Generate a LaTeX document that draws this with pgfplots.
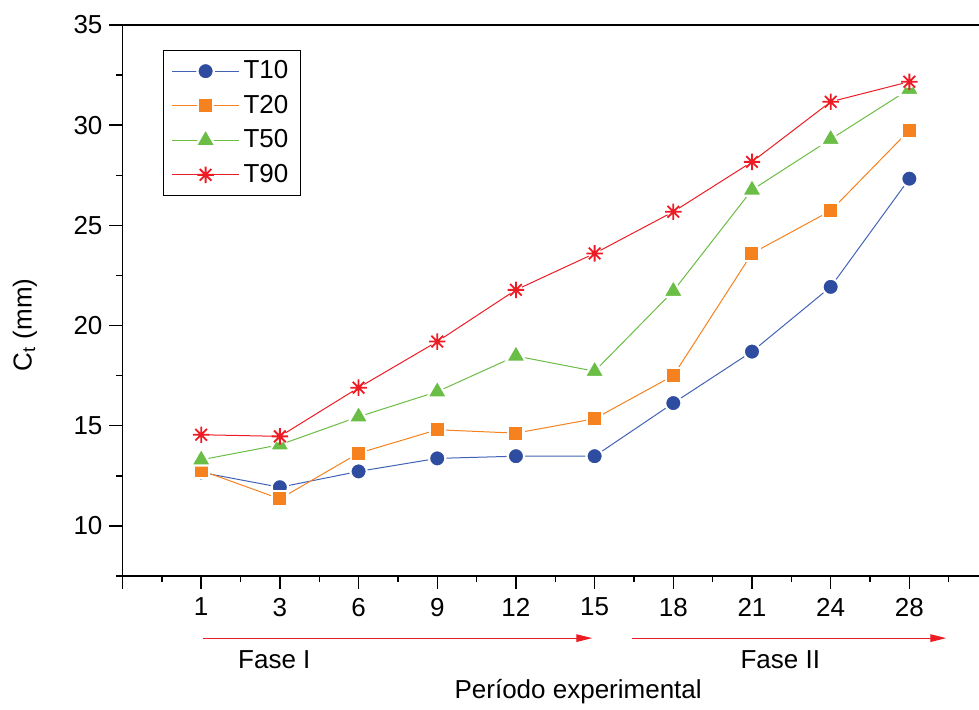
\documentclass[border=0pt]{standalone}
\usepackage{pgfplots}
\pgfplotsset{compat=1.18}
\usepackage{fontspec}
\setmainfont{Liberation Sans}
\usetikzlibrary{arrows.meta}

\definecolor{cblue}{HTML}{2E4DA0}
\definecolor{cbluel}{HTML}{4262B5}
\definecolor{corange}{HTML}{F5821F}
\definecolor{cgreen}{HTML}{6ABD45}
\definecolor{cred}{HTML}{ED1C24}

% eight-armed asterisk with a white halo, so the line stops short of it
\pgfdeclareplotmark{ast8}{%
  \pgfpathcircle{\pgfpointorigin}{0.8\pgfplotmarksize}%
  \pgfsetfillcolor{white}\pgfusepathqfill
  \pgfsetlinewidth{0.9pt}\pgfsetstrokecolor{cred}%
  \pgfpathmoveto{\pgfqpoint{0pt}{\pgfplotmarksize}}\pgfpathlineto{\pgfqpoint{0pt}{-\pgfplotmarksize}}%
  \pgfpathmoveto{\pgfqpoint{\pgfplotmarksize}{0pt}}\pgfpathlineto{\pgfqpoint{-\pgfplotmarksize}{0pt}}%
  \pgfpathmoveto{\pgfqpoint{0.707\pgfplotmarksize}{0.707\pgfplotmarksize}}\pgfpathlineto{\pgfqpoint{-0.707\pgfplotmarksize}{-0.707\pgfplotmarksize}}%
  \pgfpathmoveto{\pgfqpoint{-0.707\pgfplotmarksize}{0.707\pgfplotmarksize}}\pgfpathlineto{\pgfqpoint{0.707\pgfplotmarksize}{-0.707\pgfplotmarksize}}%
  \pgfusepathqstroke}

% x index: 0..9 stand for days 1,3,6,9,12,15,18,21,24,28
\pgfplotstableread{
x y
0 12.67
1 11.93
2 12.72
3 13.37
4 13.48
5 13.48
6 16.13
7 18.70
8 21.93
9 27.33
}\tten
\pgfplotstableread{
x y
0 12.77
1 11.35
2 13.63
3 14.80
4 14.63
5 15.35
6 17.50
7 23.60
8 25.73
9 29.75
}\ttwenty
\pgfplotstableread{
x y
0 13.30
1 14.05
2 15.45
3 16.70
4 18.48
5 17.72
6 21.72
7 26.77
8 29.30
9 31.80
}\tfifty
\pgfplotstableread{
x y
0 14.55
1 14.47
2 16.90
3 19.20
4 21.78
5 23.60
6 25.68
7 28.17
8 31.17
9 32.17
}\tninety

\begin{document}
\begin{tikzpicture}
\path[use as bounding box] (-61.25pt,-66.5pt) rectangle (428.25pt,288pt);
\begin{axis}[
  scale only axis,
  width=428.25pt, height=275.5pt,
  xmin=-1, xmax=9.885,
  ymin=7.5, ymax=35,
  axis lines=left,
  axis line style={-, line width=0.7pt},
  clip=false,
  xtick={-1,0,...,9},
  xticklabels={,1,3,6,9,12,15,18,21,24,28},
  minor xtick={-0.5,0.5,...,9.5},
  ytick={10,15,...,35},
  minor ytick={7.5,12.5,...,32.5},
  tick align=outside,
  major tick length=6.5pt,
  minor tick length=3pt,
  every tick/.style={black, line width=0.7pt},
  /pgf/number format/assume math mode=true,
  tick label style={font=\fontsize{13}{15}\selectfont},
  xticklabel style={yshift=-1pt},
  ylabel={C\textsubscript{t} (mm)},
  ylabel style={at={(axis description cs:-0.114,0.456)}, anchor=center, font=\fontsize{13}{15}\selectfont},
  xlabel={Período experimental},
  xlabel style={at={(axis description cs:0.532,-0.21)}, anchor=center, font=\fontsize{13}{15}\selectfont},
  legend style={at={(axis description cs:0.0473,0.9546)}, anchor=north west,
    draw=black, line width=0.6pt, font=\fontsize{13}{15}\selectfont,
    row sep=2.7pt, inner xsep=4pt, inner ysep=3pt},
  legend cell align=left,
  legend image code/.code={\draw[mark repeat=2,mark phase=2] plot coordinates {(0pt,0pt) (16.75pt,0pt) (33.5pt,0pt)};},
]
\draw[line width=0.7pt] (rel axis cs:0,1) -- (rel axis cs:1,1);

\addplot[cbluel, line width=0.5pt, mark=*, mark size=4.1pt,
  mark options={fill=cblue, draw=white, line width=1.1pt}] table {\tten};
\addlegendentry{T10}
\addplot[corange, line width=0.5pt, mark=square*, mark size=3.8pt,
  mark options={fill=corange, draw=white, line width=1.1pt}] table {\ttwenty};
\addlegendentry{T20}
\addplot[cgreen, line width=0.5pt, mark=triangle*, mark size=5.8pt,
  mark options={fill=cgreen, draw=white, line width=1.1pt}] table {\tfifty};
\addlegendentry{T50}
\addplot[cred, line width=0.5pt, mark=ast8, mark size=4.1pt] table {\tninety};
\addlegendentry{T90}

% experimental phases
\draw[cred, line width=0.6pt, -{Triangle[length=8pt,width=3.8pt]}] (axis cs:0.025,4.4) -- (axis cs:4.97,4.4);
\draw[cred, line width=0.6pt, -{Triangle[length=8pt,width=3.8pt]}] (axis cs:5.48,4.4) -- (axis cs:9.47,4.4);
\node[font=\fontsize{13}{15}\selectfont] at (axis cs:0.93,3.3) {Fase I};
\node[font=\fontsize{13}{15}\selectfont] at (axis cs:7.36,3.3) {Fase II};
\end{axis}
\end{tikzpicture}
\end{document}
